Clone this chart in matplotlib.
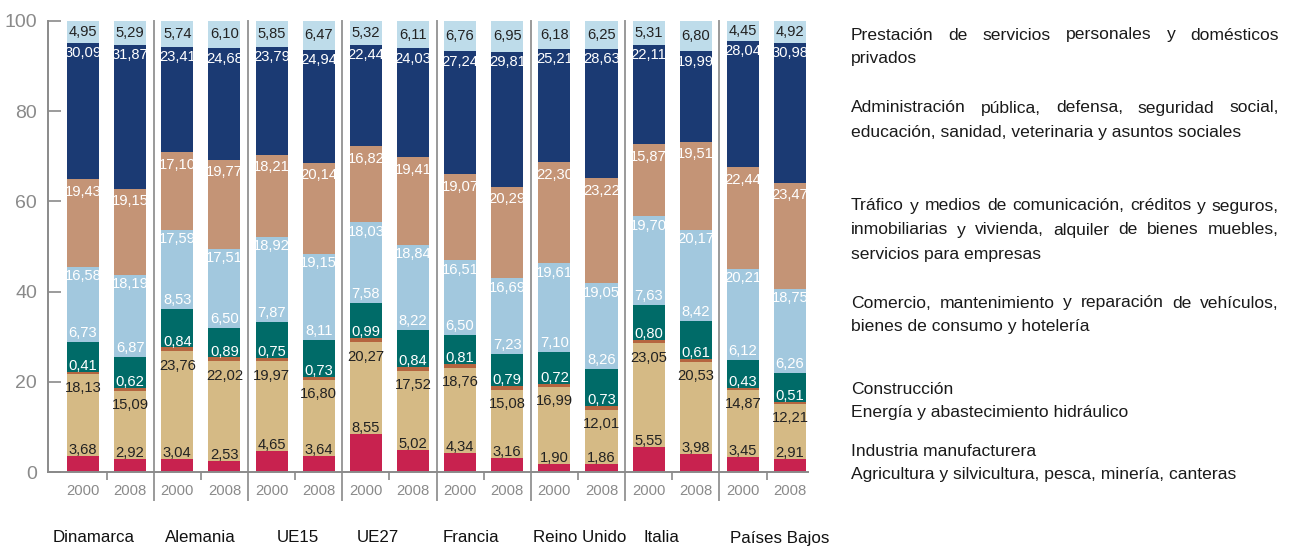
import matplotlib
matplotlib.use('Agg')
import matplotlib.pyplot as plt
import numpy as np

# ---------------- data ----------------
countries = ['Dinamarca', 'Alemania', 'UE15', 'UE27', 'Francia', 'Reino Unido', 'Italia', 'Países Bajos']
years = ['2000', '2008']

agricultura = [3.68, 2.92, 3.04, 2.53, 4.65, 3.64, 8.55, 5.02, 4.34, 3.16, 1.90, 1.86, 5.55, 3.98, 3.45, 2.91]
industria = [18.13, 15.09, 23.76, 22.02, 19.97, 16.80, 20.27, 17.52, 18.76, 15.08, 16.99, 12.01, 23.05, 20.53, 14.87, 12.21]
energia = [0.41, 0.62, 0.84, 0.89, 0.75, 0.73, 0.99, 0.84, 0.81, 0.79, 0.72, 0.73, 0.80, 0.61, 0.43, 0.51]
construccion = [6.73, 6.87, 8.53, 6.50, 7.87, 8.11, 7.58, 8.22, 6.50, 7.23, 7.10, 8.26, 7.63, 8.42, 6.12, 6.26]
comercio = [16.58, 18.19, 17.59, 17.51, 18.92, 19.15, 18.03, 18.84, 16.51, 16.69, 19.61, 19.05, 19.70, 20.17, 20.21, 18.75]
trafico = [19.43, 19.15, 17.10, 19.77, 18.21, 20.14, 16.82, 19.41, 19.07, 20.29, 22.30, 23.22, 15.87, 19.51, 22.44, 23.47]
administracion = [30.09, 31.87, 23.41, 24.68, 23.79, 24.94, 22.44, 24.03, 27.24, 29.81, 25.21, 28.63, 22.11, 19.99, 28.04, 30.98]
prestacion = [4.95, 5.29, 5.74, 6.10, 5.85, 6.47, 5.32, 6.11, 6.76, 6.95, 6.18, 6.25, 5.31, 6.80, 4.45, 4.92]

y_ticks = [0, 20, 40, 60, 80, 100]

legend_paragraphs = [
    ["Prestación de servicios personales y domésticos", "privados"],
    ["Administración pública, defensa, seguridad social,", "educación, sanidad, veterinaria y asuntos sociales"],
    ["Tráfico y medios de comunicación, créditos y seguros,",
     "inmobiliarias y vivienda, alquiler de bienes muebles,", "servicios para empresas"],
    ["Comercio, mantenimiento y reparación de vehículos,", "bienes de consumo y hotelería"],
    ["Construcción"],
    ["Energía y abastecimiento hidráulico"],
    ["Industria manufacturera"],
    ["Agricultura y silvicultura, pesca, minería, canteras"],
]

# ---------------- style ----------------
series = [agricultura, industria, energia, construccion, comercio, trafico, administracion, prestacion]
colors = ['#C8224F', '#D5BA85', '#B5653F', '#006B68', '#A2C8DE', '#C49476', '#1B3A73', '#BEDCEA']
label_colors = ['#222222', '#222222', 'white', 'white', 'white', 'white', 'white', '#222222']
label_offset = [1.3, -3.2, 1.3, 2.0, -2.1, -2.8, -2.3, None]  # None -> centre of segment
country_offset = [-0.27, -0.02, 0.06, -0.24, -0.27, 0.04, -0.22, 0.28]
legend_line_px = [[34, 57], [107, 131], [205, 229, 253], [302, 326], [388], [412], [450], [474]]

NARROW = ['Liberation Sans Narrow', 'Liberation Sans', 'DejaVu Sans']
REG = ['Liberation Sans', 'DejaVu Sans']
GREY = '#8a8a8a'

W, H = 1290, 550
fig = plt.figure(figsize=(W / 100, H / 100), dpi=100)
ax = fig.add_axes([48 / W, (H - 472.3) / H, (808 - 48) / W, (472.3 - 20.7) / H])

n = len(agricultura)
x = np.arange(n)
bw = 0.68
bottom = np.zeros(n)
for s, c, lc, off in zip(series, colors, label_colors, label_offset):
    vals = np.array(s)
    ax.bar(x, vals, bw, bottom=bottom, color=c, linewidth=0, zorder=2)
    top = bottom + vals
    for i in range(n):
        yy = (bottom[i] + top[i]) / 2 if off is None else top[i] + off
        ax.text(x[i], yy, f"{vals[i]:.2f}".replace('.', ','), ha='center', va='center',
                color=lc, fontsize=10.6, family=NARROW, zorder=3)
    bottom = top

ax.set_xlim(-0.742, 15.38)
ax.set_ylim(0, 100)
for sp in ['top', 'right']:
    ax.spines[sp].set_visible(False)
for sp in ['left', 'bottom']:
    ax.spines[sp].set_color(GREY)
    ax.spines[sp].set_linewidth(1.4)

ax.set_yticks(y_ticks)
ax.set_yticklabels([str(v) for v in y_ticks], family=NARROW, fontsize=14, color=GREY)
ax.tick_params(axis='y', direction='in', length=9.5, width=1.2, color=GREY, pad=8)

pair_centers = np.arange(len(countries)) * 2 + 0.5
ax.set_xticks(pair_centers)
ax.set_xticklabels([])
ax.tick_params(axis='x', direction='out', length=6, width=1.2, color=GREY)

# separators between countries
ypx = (472.3 - 20.7) / 100.0
for k in range(len(countries) - 1):
    xs = 2 * k + 1.5
    ax.plot([xs, xs], [100, -(500 - 472.3) / ypx], color='#9a9a9a', lw=1.4,
            clip_on=False, zorder=1)

# year and country labels
for i in range(n):
    ax.text(x[i], -(491 - 472.3) / ypx, years[i % 2], ha='center', va='center',
            color=GREY, fontsize=10.7, family=NARROW)
for k, cname in enumerate(countries):
    ax.text(pair_centers[k] + country_offset[k], -(538 - 472.3) / ypx, cname,
            ha='center', va='center', color='#111111', fontsize=12.2, family=REG)

# ---------------- text legend (justified) ----------------
renderer = fig.canvas.get_renderer()
LX0, LX1 = 851, 1279
lfs = 12.6
BASE = 5.5
for para, ypos in zip(legend_paragraphs, legend_line_px):
    for j, (line, yp) in enumerate(zip(para, ypos)):
        yf = (H - (yp + BASE)) / H
        last = (j == len(para) - 1)
        if last:
            fig.text(LX0 / W, yf, line, ha='left', va='baseline', fontsize=lfs,
                     family=REG, color='#1a1a1a')
        else:
            words = line.split(' ')
            txts = [fig.text(LX0 / W, yf, w_, ha='left', va='baseline', fontsize=lfs,
                             family=REG, color='#1a1a1a') for w_ in words]
            widths = [t.get_window_extent(renderer).width for t in txts]
            gap = (LX1 - LX0 - sum(widths)) / (len(words) - 1)
            cur = LX0
            for t, wd in zip(txts, widths):
                t.set_x(cur / W)
                cur += wd + gap

fig.savefig('out.png', dpi=100)
